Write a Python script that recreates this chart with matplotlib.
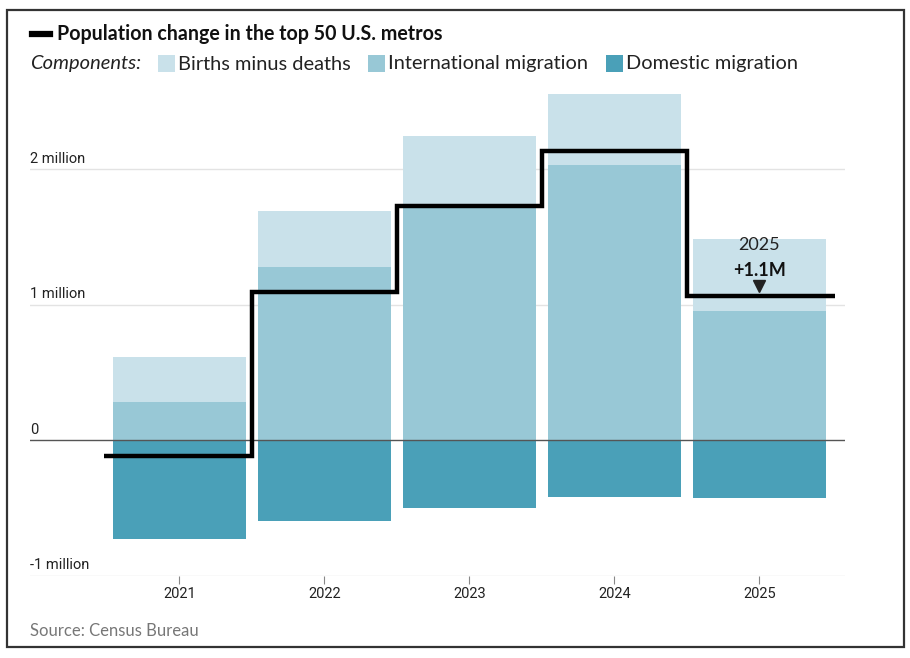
import matplotlib
matplotlib.use("Agg")
import matplotlib.pyplot as plt
from matplotlib.patches import Rectangle
from matplotlib.lines import Line2D
import numpy as np

years = ["2021", "2022", "2023", "2024", "2025"]
intl = [0.28, 1.28, 1.71, 2.03, 0.95]
births = [0.33, 0.41, 0.53, 0.52, 0.53]
domestic = [-0.73, -0.60, -0.50, -0.42, -0.43]
net = [-0.12, 1.09, 1.73, 2.13, 1.06]
ytick_vals = [-1, 0, 1, 2]
ytick_labels = ["-1 million", "0", "1 million", "2 million"]

C_BIRTH = "#c9e1ea"
C_INTL = "#98c8d6"
C_DOM = "#4aa0b8"

W, H = 910, 658
fig = plt.figure(figsize=(W / 100, H / 100), dpi=100)
ax = fig.add_axes([30 / W, (H - 575.5) / H, 815 / W, 487.8 / H])

x = np.arange(len(years))
bw = 0.917
ax.bar(x, intl, width=bw, color=C_INTL, zorder=2)
ax.bar(x, births, width=bw, bottom=intl, color=C_BIRTH, zorder=2)
ax.bar(x, domestic, width=bw, color=C_DOM, zorder=2)

edges = [-0.52, 0.5, 1.5, 2.5, 3.5, 4.52]
ax.stairs(net, edges, baseline=None, color="black", linewidth=3.2, zorder=4)

ax.set_xlim(-1.03, 4.59)
ax.set_ylim(-1.0, 2.6)

# grid lines
for v in ytick_vals:
    if v == 0:
        ax.axhline(0, color="#555555", linewidth=1.0, zorder=3)
    else:
        ax.axhline(v, color="#e3e3e3", linewidth=1.0, zorder=1)

TICKFONT = ["Liberation Sans Narrow", "Roboto", "DejaVu Sans"]
ax.set_yticks([])
for v, lab in zip(ytick_vals, ytick_labels):
    ax.text(-1.03, v + 0.025, lab, ha="left", va="bottom", fontsize=10.5,
            family=TICKFONT, color="#222222", transform=ax.transData)

ax.set_xticks(x)
ax.set_xticklabels(years, fontsize=10.5, family=TICKFONT, color="#222222")
ax.tick_params(axis="x", length=6, width=0.8, color="#888888", pad=2)
for s in ax.spines.values():
    s.set_visible(False)

# annotation
ax.text(4, 1.44, "2025", ha="center", va="center", fontsize=13, family="Lato", color="#222222", zorder=5)
ax.text(4, 1.25, "+1.1M", ha="center", va="center", fontsize=13, family="Lato",
        fontweight="bold", color="#111111", zorder=5)
ax.plot([4], [1.135], marker="v", markersize=8, color="#222222", zorder=5)

# header
fig.add_artist(Line2D([32 / W, 50 / W], [1 - 34 / H, 1 - 34 / H], color="black", linewidth=4.5))
fig.text(57 / W, 1 - 34 / H, "Population change in the top 50 U.S. metros", fontsize=14.1,
         family="Lato", fontweight="bold", va="center", ha="left", color="#111111")
fig.text(30 / W, 1 - 64 / H, "Components:", fontsize=14.5, family="Lato", style="italic",
         va="center", ha="left", color="#222222")
leg = [(158, C_BIRTH, "Births minus deaths"), (368, C_INTL, "International migration"),
       (606, C_DOM, "Domestic migration")]
for px, col, lab in leg:
    fig.add_artist(Rectangle((px / W, 1 - 72 / H), 17 / W, 17 / H, facecolor=col, edgecolor="none"))
    fig.text((px + 20) / W, 1 - 64 / H, lab, fontsize=14.4, family="Lato", va="center",
             ha="left", color="#222222")

fig.text(30 / W, 1 - 631 / H, "Source: Census Bureau", fontsize=12, family="Lato",
         va="center", ha="left", color="#777777")

# outer frame
fig.add_artist(Rectangle((7 / W, 1 - 647 / H), 897 / W, 637 / H, facecolor="none",
                         edgecolor="#333333", linewidth=1.6))

fig.savefig("out.png", dpi=100)
